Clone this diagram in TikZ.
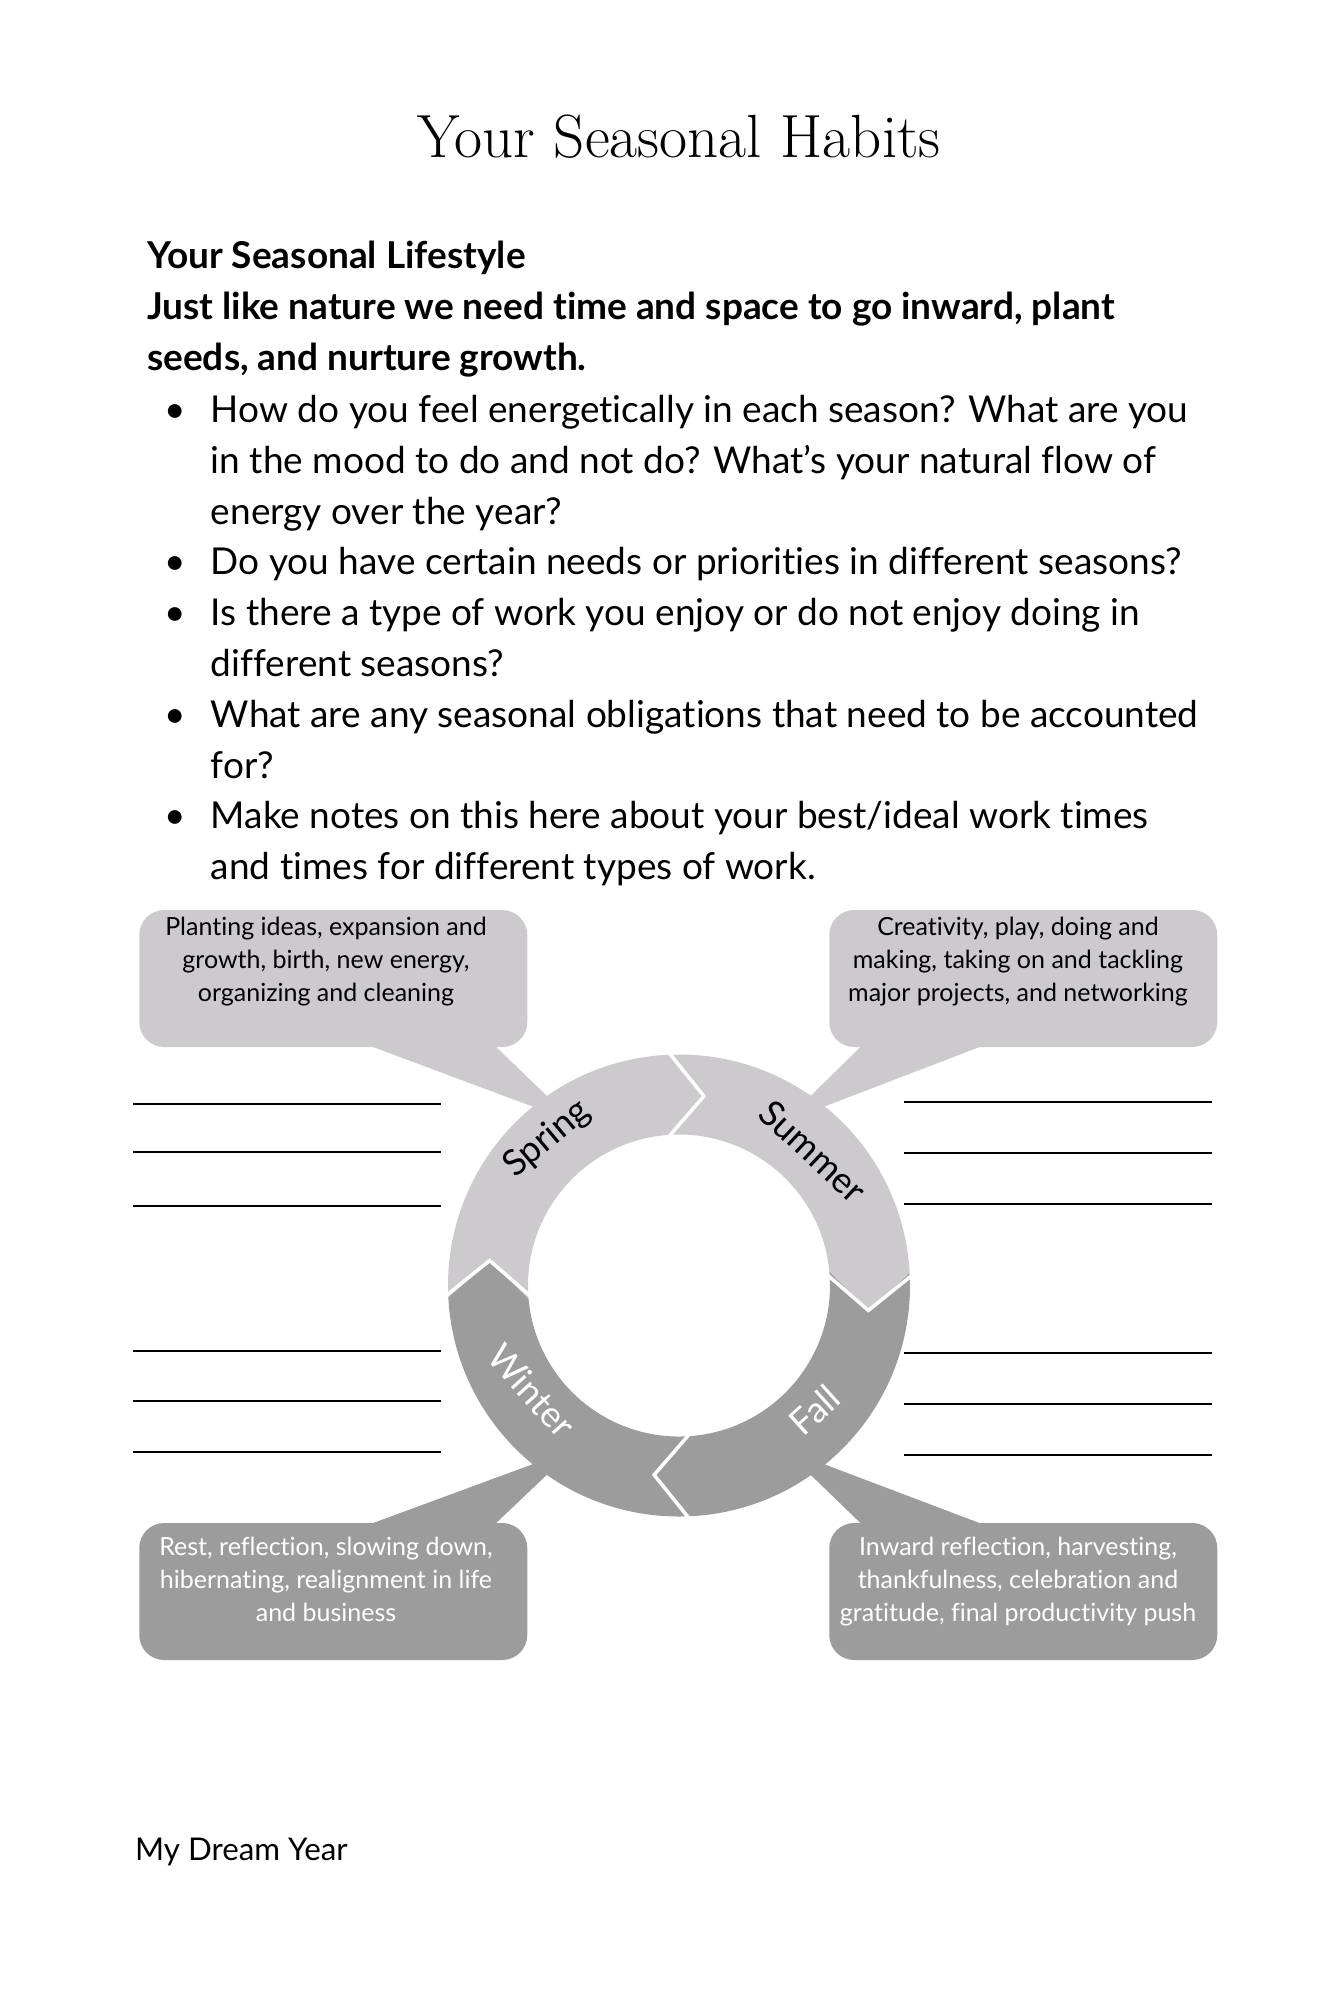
\documentclass[tikz,border=0pt]{standalone}
\usepackage{fontspec}
\newfontfamily\lato[Ligatures=NoCommon]{Lato}
\usetikzlibrary{positioning}

\definecolor{seaslight}{HTML}{CDCACD}
\definecolor{seasdark}{HTML}{9C9C9C}

\tikzset{
  body/.style={font=\lato\fontsize{37}{51}\selectfont, inner sep=0pt, anchor=base west, align=left},
  boxtext/.style={font=\lato\fontsize{25}{33}\selectfont, inner sep=0pt, align=center, anchor=base},
  callout/.style={rounded corners=25pt, minimum width=388pt, minimum height=137pt, inner sep=0pt},
  season/.style={font=\lato\fontsize{36}{36}\selectfont, inner sep=0pt},
  writeline/.style={line width=2.2pt},
}

\begin{document}
\begin{tikzpicture}[x=1pt, y=-1pt]
\useasboundingbox[fill=white] (0,0) rectangle (1333,2000);

% Title and intro text (multi-line nodes sit on their last baseline)
\node[font=\fontsize{61}{61}\selectfont, anchor=base, inner sep=0pt] (title) at (679,157) {Your Seasonal Habits};
\node[body, font=\lato\bfseries\fontsize{37}{51}\selectfont] (intro) at (147,370)
{Your Seasonal Lifestyle\\Just like nature we need time and space to go inward, plant\\seeds, and nurture growth.};

\node[body, anchor=base] (dot1) at (175.6,422) {•};
\node[body] (item1) at (210.7,524) {How do you feel energetically in each season? What are you\\in the mood to do and not do? What’s your natural flow of\\energy over the year?};
\node[body, anchor=base] (dot2) at (175.6,574) {•};
\node[body] (item2) at (210.7,574) {Do you have certain needs or priorities in different seasons?};
\node[body, anchor=base] (dot3) at (175.6,625) {•};
\node[body] (item3) at (210.7,676) {Is there a type of work you enjoy or do not enjoy doing in\\different seasons?};
\node[body, anchor=base] (dot4) at (175.6,727) {•};
\node[body] (item4) at (210.7,778) {What are any seasonal obligations that need to be accounted\\for?};
\node[body, anchor=base] (dot5) at (175.6,828) {•};
\node[body] (item5) at (210.7,879) {Make notes on this here about your best/ideal work times\\and times for different types of work.};

% Callout boxes
\node[callout, fill=seaslight] (springbox) at (333.25,978.5) {};
\node[callout, fill=seaslight] (summerbox) at (1023.25,978.5) {};
\node[callout, fill=seasdark] (winterbox) at (333.25,1591.5) {};
\node[callout, fill=seasdark] (fallbox) at (1023.25,1591.5) {};

\coordinate (springtip) at (574,1122);
\coordinate (summertip) at (784,1122);
\coordinate (wintertip) at (574,1449);
\coordinate (falltip) at (784,1449);

\fill[seaslight] ([xshift=35pt, yshift=2pt]springbox.south) -- (springtip) -- ([xshift=161pt, yshift=2pt]springbox.south) -- cycle;
\fill[seaslight] ([xshift=-161pt, yshift=2pt]summerbox.south) -- (summertip) -- ([xshift=-39pt, yshift=2pt]summerbox.south) -- cycle;
\fill[seasdark] ([xshift=35pt, yshift=-2pt]winterbox.north) -- (wintertip) -- ([xshift=161pt, yshift=-2pt]winterbox.north) -- cycle;
\fill[seasdark] ([xshift=-161pt, yshift=-2pt]fallbox.north) -- (falltip) -- ([xshift=-39pt, yshift=-2pt]fallbox.north) -- cycle;

\node[boxtext] (springtext) at (326,1001) {Planting ideas, expansion and\\growth, birth, new energy,\\organizing and cleaning};
\node[boxtext] (summertext) at (1018,1001) {Creativity, play, doing and\\making, taking on and tackling\\major projects, and networking};
\node[boxtext, text=white] (wintertext) at (326,1621) {Rest, reflection, slowing down,\\hibernating, realignment in life\\and business};
\node[boxtext, text=white] (falltext) at (1018,1621) {Inward reflection, harvesting,\\thankfulness, celebration and\\gratitude, final productivity push};

% Season ring
\begin{scope}[shift={(679,1285.5)}, yscale=-1]
\foreach \s/\e/\c in {183/93/seaslight, 93/3/seaslight, 3/-87/seasdark, -87/-177/seasdark}
  \fill[\c] (\s:231) arc[start angle=\s, end angle=\e, radius=231] -- (\e-10.5:191) -- (\e+2.2:151)
    arc[start angle=\e+2.2, end angle=\s+2.2, radius=151] -- (\s-10.5:191) -- cycle;
\foreach \o in {93,3,-87,183}
  \draw[white, line width=3.5pt] (\o:236) -- (\o-10.5:191) -- (\o+2.2:146);
\node[season, rotate=40] (spring) at (132:197) {Spring};
\node[season, rotate=-43] (summer) at (45:190) {Summer};
\node[season, rotate=-48, text=white] (winter) at (215.5:181) {Winter};
\node[season, rotate=42, text=white] (fall) at (-42.5:184) {Fall};
\end{scope}

% Writing lines
\foreach \y in {1104,1152,1206,1351,1401,1452}
  \draw[writeline] (133,\y) -- (441,\y);
\foreach \y in {1102,1153,1204,1353,1404,1455}
  \draw[writeline] (904,\y) -- (1212,\y);

% Footer
\node[body, font=\lato\fontsize{31.3}{31.3}\selectfont] (footer) at (135,1860) {My Dream Year};
\end{tikzpicture}
\end{document}
